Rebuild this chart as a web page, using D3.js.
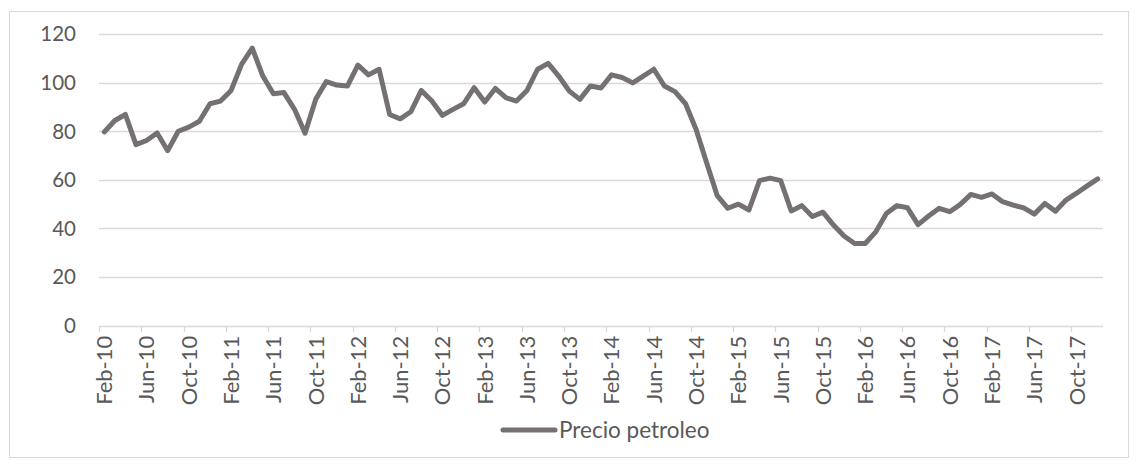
<!DOCTYPE html>
<html>
<head>
<meta charset="utf-8">
<script src="https://cdn.jsdelivr.net/npm/d3@7"></script>
<style>
  html, body { margin: 0; padding: 0; background: #ffffff; }
  svg { display: block; }
</style>
</head>
<body>
<svg id="chart" width="1136" height="468"></svg>
<script>
const categories = [
  "Feb-10","Mar-10","Apr-10","May-10","Jun-10","Jul-10","Aug-10","Sep-10","Oct-10","Nov-10","Dec-10",
  "Jan-11","Feb-11","Mar-11","Apr-11","May-11","Jun-11","Jul-11","Aug-11","Sep-11","Oct-11","Nov-11","Dec-11",
  "Jan-12","Feb-12","Mar-12","Apr-12","May-12","Jun-12","Jul-12","Aug-12","Sep-12","Oct-12","Nov-12","Dec-12",
  "Jan-13","Feb-13","Mar-13","Apr-13","May-13","Jun-13","Jul-13","Aug-13","Sep-13","Oct-13","Nov-13","Dec-13",
  "Jan-14","Feb-14","Mar-14","Apr-14","May-14","Jun-14","Jul-14","Aug-14","Sep-14","Oct-14","Nov-14","Dec-14",
  "Jan-15","Feb-15","Mar-15","Apr-15","May-15","Jun-15","Jul-15","Aug-15","Sep-15","Oct-15","Nov-15","Dec-15",
  "Jan-16","Feb-16","Mar-16","Apr-16","May-16","Jun-16","Jul-16","Aug-16","Sep-16","Oct-16","Nov-16","Dec-16",
  "Jan-17","Feb-17","Mar-17","Apr-17","May-17","Jun-17","Jul-17","Aug-17","Sep-17","Oct-17","Nov-17","Dec-17"
];
const precioPetroleo = [
  79.7, 84.4, 86.9, 74.5, 76.2, 79.3, 72.0, 80.0, 81.7, 84.1, 91.3,
  92.4, 96.8, 107.6, 114.2, 102.7, 95.4, 95.9, 89.0, 79.2, 93.1, 100.4, 99.0,
  98.6, 107.2, 103.2, 105.5, 86.9, 85.1, 88.0, 96.8, 92.4, 86.5, 89.0, 91.3,
  97.9, 92.0, 97.6, 93.8, 92.4, 96.8, 105.5, 107.9, 102.7, 96.5, 93.1, 98.6,
  97.8, 103.2, 102.1, 99.9, 102.7, 105.5, 98.6, 96.3, 91.3, 80.7, 66.9, 53.5,
  48.3, 50.0, 47.6, 59.7, 60.7, 59.7, 47.2, 49.4, 44.9, 46.7, 41.4, 36.9,
  33.8, 33.8, 38.6, 46.2, 49.4, 48.5, 41.6, 45.1, 48.3, 46.9, 49.9, 54.0,
  52.8, 54.2, 51.0, 49.6, 48.5, 45.9, 50.3, 47.1, 51.7, 54.5, 57.5, 60.4
];
const yTicks = [0, 20, 40, 60, 80, 100, 120];
const xTickEvery = 4;
const seriesName = "Precio petroleo";

const svg = d3.select("#chart");
const FONT = "Lato, 'Open Sans', sans-serif";
const TXT = "#595959";
const GRID = "#d9d9d9";
const LINE = "#767171";

// chart border
svg.append("rect")
  .attr("x", 9.5).attr("y", 11.5)
  .attr("width", 1119).attr("height", 446)
  .attr("fill", "#fff").attr("stroke", GRID).attr("stroke-width", 1);

const plotLeft = 99, plotRight = 1103, plotTop = 34, plotBottom = 325.7;

const x = d3.scaleBand().domain(categories).range([plotLeft, plotRight]).padding(0);
const y = d3.scaleLinear().domain([0, 120]).range([plotBottom, plotTop]);

// gridlines
svg.append("g").selectAll("line").data(yTicks.filter(d => d !== 0)).join("line")
  .attr("x1", plotLeft).attr("x2", plotRight)
  .attr("y1", d => Math.round(y(d)) + 0.5).attr("y2", d => Math.round(y(d)) + 0.5)
  .attr("stroke", GRID).attr("stroke-width", 1.3);

// y labels
svg.append("g").selectAll("text").data(yTicks).join("text")
  .attr("x", 76).attr("y", d => y(d))
  .attr("dy", "0.36em")
  .attr("text-anchor", "end")
  .attr("font-family", FONT).attr("font-size", "20.5px").attr("fill", TXT)
  .text(d => d);

// x axis line
svg.append("line")
  .attr("x1", plotLeft).attr("x2", plotRight)
  .attr("y1", Math.round(plotBottom) + 0.5).attr("y2", Math.round(plotBottom) + 0.5)
  .attr("stroke", GRID).attr("stroke-width", 1.3);

// x tick marks at category boundaries every 4 categories
const tickCats = categories.filter((d, i) => i % xTickEvery === 0);
svg.append("g").selectAll("line").data(tickCats).join("line")
  .attr("x1", d => Math.round(x(d)) + 0.5).attr("x2", d => Math.round(x(d)) + 0.5)
  .attr("y1", Math.round(plotBottom)).attr("y2", Math.round(plotBottom) + 6)
  .attr("stroke", GRID).attr("stroke-width", 1.3);

// x labels (rotated)
svg.append("g").selectAll("text").data(tickCats).join("text")
  .attr("transform", d => `translate(${x(d) + x.bandwidth() / 2},${plotBottom + 10}) rotate(-90)`)
  .attr("dy", "0.36em")
  .attr("text-anchor", "end")
  .attr("font-family", FONT).attr("font-size", "22px").attr("fill", TXT)
  .text(d => d);

// line
const lineGen = d3.line()
  .x((d, i) => x(categories[i]) + x.bandwidth() / 2)
  .y(d => y(d));
svg.append("path")
  .datum(precioPetroleo)
  .attr("d", lineGen)
  .attr("fill", "none")
  .attr("stroke", LINE)
  .attr("stroke-width", 5)
  .attr("stroke-linejoin", "round")
  .attr("stroke-linecap", "round");

// legend
const lg = svg.append("g");
lg.append("line")
  .attr("x1", 503).attr("x2", 555).attr("y1", 430).attr("y2", 430)
  .attr("stroke", LINE).attr("stroke-width", 5).attr("stroke-linecap", "round");
lg.append("text")
  .attr("x", 559).attr("y", 430).attr("dy", "0.36em")
  .attr("font-family", FONT).attr("font-size", "22.5px").attr("fill", TXT)
  .text(seriesName);
</script>
</body>
</html>
